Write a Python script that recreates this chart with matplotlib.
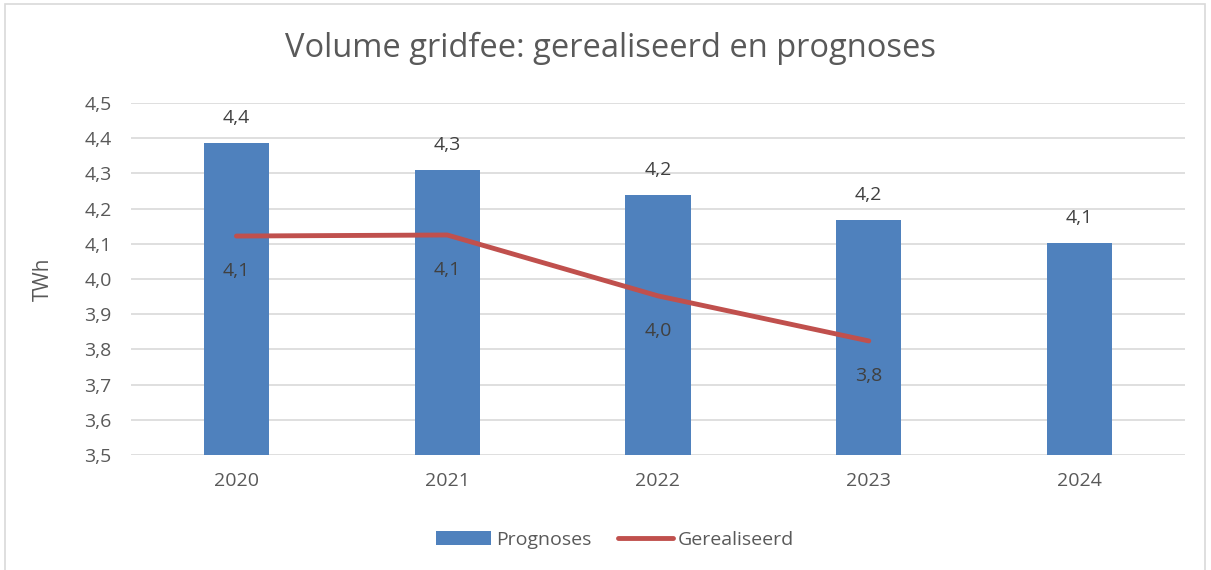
import matplotlib
matplotlib.use("Agg")
import matplotlib.pyplot as plt
from matplotlib.patches import Rectangle

years = ["2020", "2021", "2022", "2023", "2024"]
prognoses = [4.386, 4.31, 4.239, 4.168, 4.102]
gerealiseerd = [4.122, 4.125, 3.952, 3.824]
yticks = [3.5, 3.6, 3.7, 3.8, 3.9, 4.0, 4.1, 4.2, 4.3, 4.4, 4.5]

plt.rcParams["font.family"] = ["Open Sans", "DejaVu Sans"]
txt = "#595959"
blue = "#4F81BD"
red = "#C0504D"

fig = plt.figure(figsize=(12.11, 5.70), dpi=100)
fig.patches.append(Rectangle((0.004, -0.01), 0.991, 1.003, transform=fig.transFigure,
                             fill=False, edgecolor="#D9D9D9", linewidth=1.2))
ax = fig.add_axes([0.1082, 0.2018, 0.8703, 0.6175])

x = list(range(len(years)))
bars = ax.bar(x, prognoses, width=0.31, color=blue, label="Prognoses", zorder=2)
line, = ax.plot(x[:len(gerealiseerd)], gerealiseerd, color=red, linewidth=3.5,
                solid_capstyle="round", label="Gerealiseerd", zorder=3)

for i, v in enumerate(prognoses):
    ax.annotate(f"{v:.1f}".replace(".", ","), (i, v), xytext=(0, 18), textcoords="offset points",
                ha="center", va="center", fontsize=14, color="#404040")
for i, v in enumerate(gerealiseerd):
    ax.annotate(f"{v:.1f}".replace(".", ","), (i, v), xytext=(0, -25), textcoords="offset points",
                ha="center", va="center", fontsize=14, color="#404040")

ax.set_xlim(-0.5, len(years) - 0.5)
ax.set_ylim(3.5, 4.5)
ax.set_yticks(yticks)
ax.set_yticklabels([f"{t:.1f}".replace(".", ",") for t in yticks])
ax.set_xticks(x)
ax.set_xticklabels(years)
ax.tick_params(axis="both", length=0, labelsize=14, colors=txt)
ax.tick_params(axis="y", pad=14)
ax.tick_params(axis="x", pad=12)
ax.grid(axis="y", color="#D9D9D9", linewidth=1.2, zorder=0)
ax.set_axisbelow(True)
for s in ax.spines.values():
    s.set_visible(False)

ax.set_ylabel("TWh", fontsize=15, color=txt, labelpad=22)
fig.text(0.504, 0.915, "Volume gridfee: gerealiseerd en prognoses", ha="center", va="center",
         fontsize=23.5, color=txt)

fig.legend([bars, line], ["Prognoses", "Gerealiseerd"], loc="center",
           bbox_to_anchor=(0.508, 0.053), ncol=2, frameon=False,
           fontsize=14, labelcolor=txt, handlelength=2.8, handletextpad=0.25, columnspacing=1.4)

fig.savefig("out.png", dpi=100)
